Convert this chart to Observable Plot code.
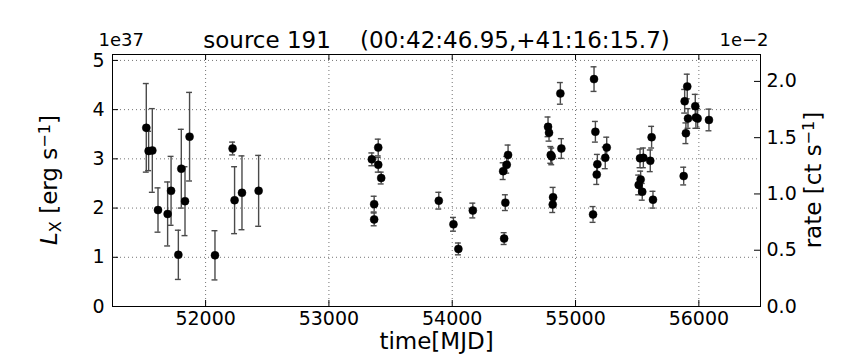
<!DOCTYPE html>
<html><head><meta charset="utf-8">
<script src="https://cdn.jsdelivr.net/npm/d3@7"></script>
<script src="https://cdn.jsdelivr.net/npm/@observablehq/plot@0.6"></script>
<style>body{margin:0;background:#fff} svg{font-family:"DejaVu Sans",sans-serif}</style>
</head><body><div id="chart"></div>
<script>
const mjd = [51519, 51538, 51568, 51614, 51692, 51720, 51779, 51803, 51833, 51870, 52076, 52219, 52235, 52295, 52430, 53348, 53400, 53400, 53424, 53367, 53367, 53891, 54010, 54050, 54167, 54421, 54431, 54413, 54442, 54453, 54777, 54785, 54799, 54807, 54818, 54815, 54877, 54885, 55150, 55161, 55142, 55177, 55172, 55241, 55253, 55523, 55550, 55512, 55528, 55541, 55606, 55617, 55628, 55877, 55885, 55906, 55895, 55912, 55971, 55976, 55990, 56082];
const lx = [3.63, 3.16, 3.17, 1.96, 1.88, 2.35, 1.05, 2.80, 2.14, 3.45, 1.04, 3.21, 2.16, 2.31, 2.35, 2.99, 3.23, 2.88, 2.61, 2.08, 1.77, 2.15, 1.67, 1.17, 1.95, 1.38, 2.11, 2.75, 2.88, 3.08, 3.65, 3.53, 3.08, 3.05, 2.22, 2.07, 4.33, 3.21, 4.62, 3.55, 1.87, 2.89, 2.68, 3.02, 3.23, 3.01, 3.02, 2.47, 2.58, 2.33, 2.96, 3.44, 2.17, 2.65, 4.17, 4.47, 3.52, 3.82, 4.07, 3.84, 3.82, 3.79];
const lxErr = [0.9, 0.4, 0.85, 0.45, 0.65, 0.7, 0.5, 0.8, 0.7, 0.9, 0.5, 0.13, 0.68, 0.75, 0.72, 0.13, 0.17, 0.15, 0.12, 0.16, 0.13, 0.17, 0.14, 0.12, 0.15, 0.12, 0.16, 0.17, 0.17, 0.2, 0.2, 0.17, 0.17, 0.17, 0.2, 0.16, 0.22, 0.2, 0.25, 0.21, 0.16, 0.2, 0.2, 0.22, 0.21, 0.19, 0.2, 0.2, 0.17, 0.17, 0.22, 0.22, 0.17, 0.18, 0.24, 0.25, 0.21, 0.2, 0.24, 0.22, 0.2, 0.22];
const xTicks = [52000, 53000, 54000, 55000, 56000];
const yTicks = [0, 1, 2, 3, 4, 5];
const rateTicks = [0.0, 0.5, 1.0, 1.5, 2.0];
const rateScale = 0.4373; // rate (1e-2 ct/s) per 1e37 erg/s
const title = "source 191\u00a0\u00a0\u00a0\u00a0(00:42:46.95,+41:16:15.7)";
const xLabel = "time[MJD]";
const leftExp = "1e37", rightExp = "1e\u22122";

const data = mjd.map((t, i) => ({t, l: lx[i], lo: lx[i] - lxErr[i], hi: lx[i] + lxErr[i]}));
const W = 864, H = 360, mL = 112, mR = 104, mT = 54, mB = 54;
const fw = W - mL - mR, fh = H - mT - mB;
const capHalf = 24;
const tk = 6;
const rateInL = rateTicks.map(r => r / rateScale);
const FS = 19, LFS = 23;
const grid = {stroke: "#000", strokeOpacity: 0.55, strokeWidth: 1, strokeDasharray: "1,3"};
const eb = {stroke: "#4a4a4a", strokeWidth: 1.4};

const plot = Plot.plot({
  width: W, height: H, marginLeft: mL, marginRight: mR, marginTop: mT, marginBottom: mB,
  x: {domain: [51245, 56500]},
  y: {domain: [0, 5.12]},
  style: {fontFamily: "'DejaVu Sans', sans-serif", background: "white", color: "black"},
  marks: [
    Plot.gridX(xTicks, grid),
    Plot.gridY(yTicks, grid),
    Plot.ruleX(data, {x: "t", y1: "lo", y2: "hi", ...eb}),
    Plot.ruleY(data, {y: "hi", x1: d => d.t - capHalf, x2: d => d.t + capHalf, ...eb}),
    Plot.ruleY(data, {y: "lo", x1: d => d.t - capHalf, x2: d => d.t + capHalf, ...eb}),
    Plot.dot(data, {x: "t", y: "l", r: 4, fill: "black", stroke: "black", strokeWidth: 0.5}),
    Plot.tickX(xTicks, {x: d => d, insetTop: fh - tk, stroke: "#000"}),
    Plot.tickX(xTicks, {x: d => d, insetBottom: fh - tk, stroke: "#000"}),
    Plot.tickY(yTicks, {y: d => d, insetRight: fw - tk, stroke: "#000"}),
    Plot.tickY(rateInL, {y: d => d, insetLeft: fw - tk, stroke: "#000"}),
    Plot.axisX(xTicks, {tickSize: 0, tickPadding: 5, fontSize: FS, tickFormat: d => String(d), label: null}),
    Plot.axisY(yTicks, {anchor: "left", tickSize: 0, tickPadding: 8, fontSize: FS, tickFormat: d => String(d), label: null}),
    Plot.axisY(rateInL, {anchor: "right", tickSize: 0, tickPadding: 6, fontSize: FS, tickFormat: d => (d * rateScale).toFixed(1), label: null}),
    Plot.frame({stroke: "#000", strokeWidth: 1}),
    Plot.text([title], {frameAnchor: "top", dy: -23, fontSize: LFS}),
    Plot.text([leftExp], {frameAnchor: "top-left", textAnchor: "start", dx: -14, dy: -21, fontSize: 18}),
    Plot.text([rightExp], {frameAnchor: "top-right", textAnchor: "end", dx: 8, dy: -21, fontSize: 18}),
    Plot.text([xLabel], {frameAnchor: "bottom", dy: 42, fontSize: LFS})
  ]
});

const svg = d3.select(plot);
function rich(x, y, parts) {
  const t = svg.append("text")
    .attr("transform", `translate(${x},${y}) rotate(-90)`)
    .attr("text-anchor", "middle")
    .attr("font-size", LFS)
    .attr("fill", "black");
  for (const p of parts) {
    const s = t.append("tspan").text(p.t);
    if (p.italic) s.attr("font-style", "italic");
    if (p.sub) s.attr("font-size", LFS * 0.7).attr("baseline-shift", "-22%");
    if (p.sup) s.attr("font-size", LFS * 0.7).attr("baseline-shift", "45%");
  }
  return t;
}
rich(57, 180, [{t: "L", italic: true}, {t: "X", sub: true}, {t: " [erg s"}, {t: "\u22121", sup: true}, {t: "]"}]);
rich(821, 180, [{t: "rate [ct s"}, {t: "\u22121", sup: true}, {t: "]"}]);

document.getElementById("chart").append(plot);
</script>
</body></html>
